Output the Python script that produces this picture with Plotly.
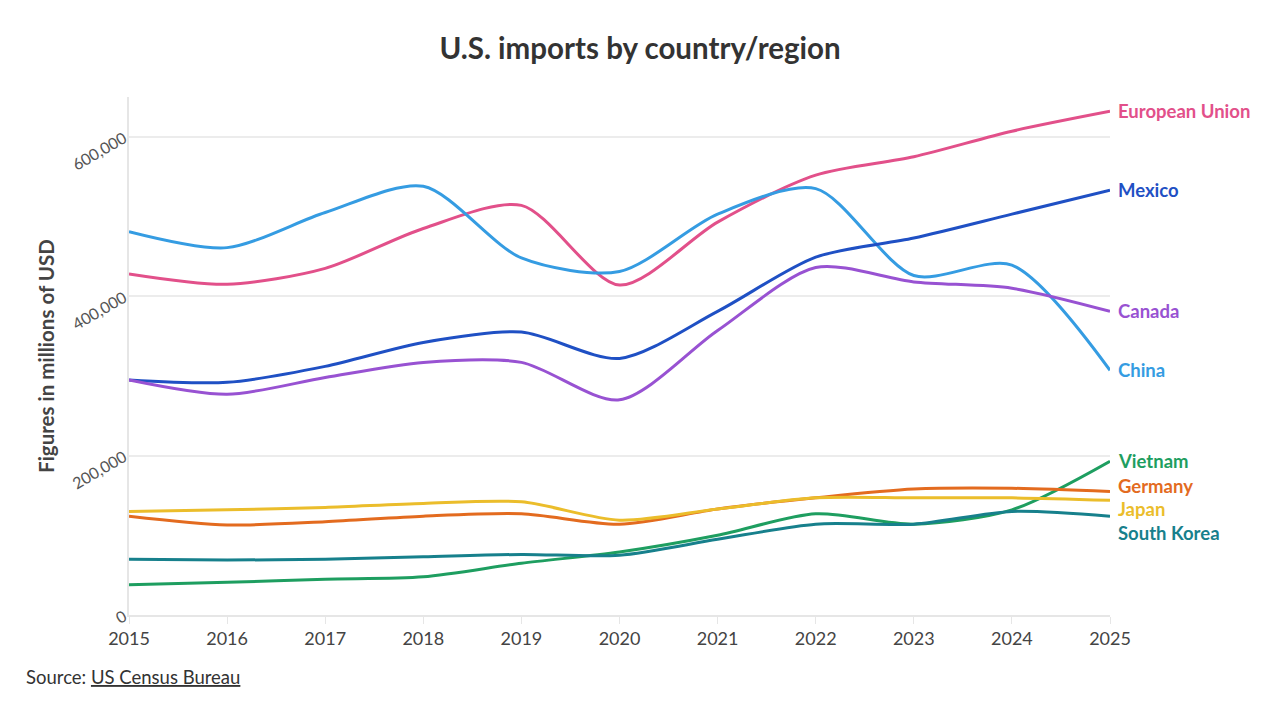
import plotly.graph_objects as go

years = list(range(2015, 2026))

# values in millions of USD
european_union = [428000, 415000, 435000, 485000, 514000, 414000, 493000, 552000, 575000, 607000, 632000]
china = [481000, 461000, 505000, 538000, 448000, 431000, 503000, 535000, 426000, 439000, 307000]
mexico = [295000, 292000, 312000, 342000, 355000, 322000, 381000, 449000, 473000, 503000, 533000]
canada = [295000, 277000, 298000, 317000, 317000, 270000, 357000, 436000, 418000, 410000, 381000]
vietnam = [38000, 41000, 45000, 48000, 65000, 79000, 100000, 127000, 114000, 132000, 193000]
germany = [124000, 113000, 117000, 124000, 127000, 114000, 133000, 147000, 158000, 159000, 155000]
japan = [130000, 132000, 135000, 140000, 142000, 119000, 133000, 147000, 147000, 147000, 144000]
south_korea = [70000, 69000, 70000, 73000, 76000, 75000, 95000, 114000, 114000, 130000, 124000]

series = [
    ("European Union", european_union, "#E2508A"),
    ("China", china, "#359CE2"),
    ("Mexico", mexico, "#1F50C4"),
    ("Canada", canada, "#9852D2"),
    ("Vietnam", vietnam, "#1E9E60"),
    ("Germany", germany, "#E36B1F"),
    ("Japan", japan, "#EBBD2B"),
    ("South Korea", south_korea, "#17808C"),
]

# where the end labels sit (value units), spread apart where they would collide
label_pos = {
    "Germany": 162000,
    "Japan": 133000,
    "South Korea": 103000,
}

font = "Lato"
W, H = 1264, 696   # page adds an 8px body margin around the figure
L, R, T, B = 121, 162, 89, 89

fig = go.Figure()

for name, vals, color in series:
    fig.add_trace(go.Scatter(
        x=years, y=vals, name=name, mode="lines",
        line=dict(color=color, width=3, shape="spline", smoothing=0.8),
        hovertemplate="%{x}: %{y:,}<extra>" + name + "</extra>",
    ))

annotations = []
shapes = []
grey = "#a0a0a0"
for name, vals, color in series:
    end = vals[-1]
    ly = label_pos.get(name, end)
    annotations.append(dict(
        x=years[-1], y=ly, xref="x", yref="y", text="<b>" + name + "</b>",
        showarrow=False, xanchor="left", yanchor="middle", xshift=6,
        font=dict(family=font, size=18.5, color=color),
    ))
    # leader line from the end of the line to its label
    if ly == end:
        shapes.append(dict(type="line", xref="x", yref="y", xsizemode="pixel", xanchor=years[-1],
                           x0=1, x1=6, y0=end, y1=end, line=dict(color=grey, width=1.2)))
    else:
        shapes.append(dict(type="line", xref="x", yref="y", xsizemode="pixel", xanchor=years[-1],
                           x0=1, x1=3, y0=end, y1=end, line=dict(color=grey, width=1.2)))
        shapes.append(dict(type="line", xref="x", yref="y", xsizemode="pixel", xanchor=years[-1],
                           x0=3, x1=3, y0=end, y1=ly, line=dict(color=grey, width=1.2)))
        shapes.append(dict(type="line", xref="x", yref="y", xsizemode="pixel", xanchor=years[-1],
                           x0=3, x1=6, y0=ly, y1=ly, line=dict(color=grey, width=1.2)))

annotations.append(dict(
    x=(16 - L) / (W - L - R), y=(H - B - 669) / (H - T - B), xref="paper", yref="paper",
    text="Source: <u>US Census Bureau</u>",
    showarrow=False, xanchor="left", yanchor="middle",
    font=dict(family=font, size=18.5, color="#333333"),
))

fig.update_layout(
    width=W, height=H,
    margin=dict(l=L, r=R, t=T, b=B),
    paper_bgcolor="white", plot_bgcolor="white",
    showlegend=False,
    title=dict(text="<b>U.S. imports by country/region</b>", x=0.5, xanchor="center",
               y=1 - 41 / H, yanchor="middle",
               font=dict(family=font, size=29.5, color="#333333")),
    font=dict(family=font),
    annotations=annotations,
    shapes=shapes,
)

fig.update_xaxes(
    range=[2015, 2025], tickvals=years, ticks="outside", ticklen=7, tickcolor="#e6e6e6",
    showgrid=False, showline=True, linecolor="#e6e6e6", linewidth=1.5,
    tickfont=dict(family=font, size=18, color="#444444"), zeroline=False,
)
fig.update_yaxes(
    range=[0, 650000], tickvals=[0, 200000, 400000, 600000], tickformat=",",
    tickangle=-30, showgrid=True, gridcolor="#ececec", gridwidth=1.5,
    showline=True, linecolor="#e6e6e6", linewidth=1.5, zeroline=False,
    tickfont=dict(family=font, size=16, color="#555555"),
    title=dict(text="<b>Figures in millions of USD</b>", standoff=9,
               font=dict(family=font, size=20.5, color="#444444")),
)

fig.write_html("out.html")
